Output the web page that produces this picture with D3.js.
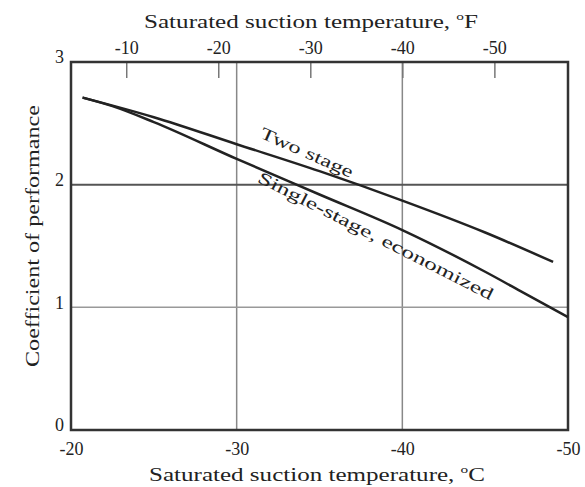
<!DOCTYPE html>
<html><head><meta charset="utf-8">
<script src="https://cdn.jsdelivr.net/npm/d3@7"></script>
<style>body{margin:0;background:#fff}svg text{font-family:"Liberation Serif","Times New Roman",serif;fill:#222}</style>
</head><body><svg id="c" width="585" height="487"></svg>
<script>
// Data: Saturated suction temperature (°C) vs coefficient of performance
const twoStageT   = [-20.7, -25, -30, -35, -40, -45, -49.1];
const twoStageCOP = [2.71, 2.55, 2.33, 2.11, 1.87, 1.61, 1.37];
const singleT     = [-20.7, -22.5, -25, -30, -35, -40, -45, -47.3, -50];
const singleCOP   = [2.71, 2.64, 2.51, 2.21, 1.92, 1.63, 1.29, 1.12, 0.92];
const xTicksC = [-20, -30, -40, -50];
const xTicksF = [-10, -20, -30, -40, -50];
const yTicks  = [0, 1, 2, 3];
const gridC = [-30, -40];
const gridY = [1, 2];

const svg = d3.select("#c");
const L = 71, R = 568, T = 62, B = 430;
const x = d3.scaleLinear().domain([-20, -50]).range([L, R]);
const xF = d3.scaleLinear().domain([-20 * 1.8 + 32, -50 * 1.8 + 32]).range([L, R]);
const y = d3.scaleLinear().domain([0, 3]).range([B, T]);

// gridlines
svg.append("g").selectAll("line").data(gridC).join("line")
  .attr("x1", d => x(d)).attr("x2", d => x(d)).attr("y1", T).attr("y2", B)
  .attr("stroke", "#888").attr("stroke-width", 1.5);
svg.append("g").selectAll("line").data(gridY).join("line")
  .attr("x1", L).attr("x2", R).attr("y1", d => y(d)).attr("y2", d => y(d))
  .attr("stroke", d => d === 2 ? "#555" : "#999").attr("stroke-width", d => d === 2 ? 2 : 1.5);

// axes
const fs = "18px";
const gB = svg.append("g").attr("transform", `translate(0,${B})`)
  .call(d3.axisBottom(x).tickValues(xTicksC).tickSize(0).tickPadding(12).tickFormat(d => String(d)));
const gL = svg.append("g").attr("transform", `translate(${L},0)`)
  .call(d3.axisLeft(y).tickValues(yTicks).tickSize(0).tickPadding(7).tickFormat(d => String(d)));
const gT = svg.append("g").attr("transform", `translate(0,${T})`)
  .call(d3.axisTop(xF).tickValues(xTicksF).tickSize(-16).tickPadding(8).tickFormat(d => String(d)));
[gB, gL, gT].forEach(g => {
  g.selectAll("text").style("font-size", fs).attr("fill", "#222");
  g.select(".domain").remove();
});
gL.selectAll("text").attr("dy", "0.05em");
gT.selectAll(".tick line").attr("stroke", "#777").attr("stroke-width", 1.5);

// frame
svg.append("rect").attr("x", L).attr("y", T).attr("width", R - L).attr("height", B - T)
  .attr("fill", "none").attr("stroke", "#333").attr("stroke-width", 2.5);

// curves
const line = d3.line().x(d => x(d[0])).y(d => y(d[1])).curve(d3.curveMonotoneX);
svg.append("path").datum(d3.zip(twoStageT, twoStageCOP)).attr("d", line)
  .attr("fill", "none").attr("stroke", "#222").attr("stroke-width", 2.5);
svg.append("path").datum(d3.zip(singleT, singleCOP)).attr("d", line)
  .attr("fill", "none").attr("stroke", "#222").attr("stroke-width", 2.5);

// curve labels
svg.append("text").attr("transform", `translate(${x(-34.2)},${y(2.25)}) rotate(24)`)
  .attr("text-anchor", "middle").attr("dominant-baseline", "middle")
  .style("font-size", "17px").attr("textLength", 100).attr("lengthAdjust", "spacingAndGlyphs")
  .text("Two stage");
svg.append("text").attr("transform", `translate(${x(-38.35)},${y(1.57)}) rotate(27)`)
  .attr("text-anchor", "middle").attr("dominant-baseline", "middle")
  .style("font-size", "17px").attr("textLength", 262).attr("lengthAdjust", "spacingAndGlyphs")
  .text("Single-stage, economized");

// axis titles
function title(t, cx, cy, unit, rot, len) {
  const tx = svg.append("text").attr("transform", `translate(${cx},${cy})${rot ? " rotate(-90)" : ""}`)
    .attr("text-anchor", "middle").attr("dominant-baseline", "middle").style("font-size", "18px");
  if (len) tx.attr("textLength", len).attr("lengthAdjust", "spacingAndGlyphs");
  tx.append("tspan").text(t);
  if (unit) {
    tx.append("tspan").attr("dy", -7).style("font-size", "11px").text("o");
    tx.append("tspan").attr("dy", 7).text(unit);
  }
}
title("Saturated suction temperature, ", 311, 24, "F", false, 334);
title("Saturated suction temperature, ", 317, 477, "C", false, 336);
title("Coefficient of performance", 35, 236, null, true, 262);
</script></body></html>
